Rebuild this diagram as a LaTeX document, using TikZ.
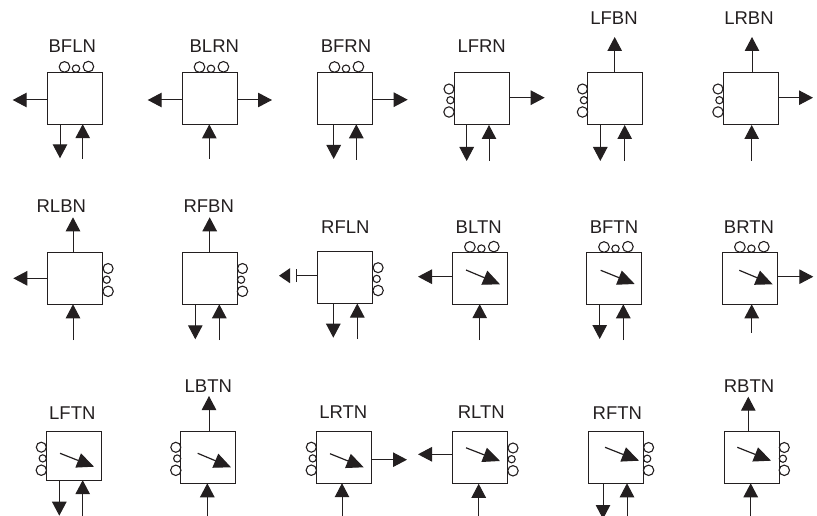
\documentclass[tikz,border=0pt]{standalone}
\usepackage{fontspec}
\setmainfont{Liberation Sans}
\usetikzlibrary{positioning, arrows.meta}
\definecolor{inkdark}{HTML}{231F20}
\tikzset{
    devbox/.style={draw=inkdark,line width=1pt,minimum width=55pt,inner sep=0pt,outer sep=0pt},
    devlabel/.style={text=inkdark,font=\fontsize{18.5}{20}\selectfont,inner sep=0pt},
    flow/.style={draw=inkdark,line width=1pt,-{Triangle[length=14pt,width=14.5pt]}},
    pointer/.style={draw=inkdark,line width=1.2pt,-{Triangle[length=17pt,width=15pt]}},
    roller/.style={draw=inkdark,line width=1.1pt}
}
\begin{document}
\begin{tikzpicture}[x=1pt,y=-1pt]
    \useasboundingbox (0,0) rectangle (817,516);
    % boxes and names: name/centre x/centre y/height/label x/label y
    \foreach \b/\x/\y/\h/\lx/\ly in {
        BFLN/74.8/98.2/52/72.3/45.7, BLRN/209.8/98.4/52/214.3/45.7, BFRN/344.8/98.3/52/346/46,
        LFRN/481.5/99/52/481.7/46, LFBN/615/99/52/614/18.5, LRBN/750.5/99/52/749/18.5,
        RLBN/75.3/278.3/52/61.3/205.7, RFBN/209.7/278.3/52/208.7/205.7, RFLN/345.3/277.5/52/345.3/227.3,
        BLTN/480.2/278.2/52/478.7/227.3, BFTN/614.3/278.3/52/614/227.3, BRTN/750.2/278.3/52/749/227.3,
        LFTN/73.8/455.7/49/72.3/412.7, LBTN/208.3/457.3/52/208.3/385.7, LRTN/343.8/457.2/52/343.3/412.3,
        RLTN/480.2/457.8/52/481.3/412.3, RFTN/615.8/457.3/52/617.3/412.7, RBTN/751.5/457.3/52/749/385.7}{
        \node[devbox,minimum height=\h pt] (\b) at (\x,\y) {};
        \node[devlabel] (\b-name) at (\lx,\ly) {\b};
    }
    % rollers
    \foreach \b in {BFLN,BLRN,BFRN,BLTN,BFTN,BRTN}{
        \draw[roller] ([shift={(-10.3,-5.3)}]\b.north) circle (5.3);
        \draw[roller] ([shift={(1.2,-3.6)}]\b.north) circle (3.7);
        \draw[roller] ([shift={(13.6,-5.6)}]\b.north) circle (5.3);
    }
    \foreach \b in {LFRN,LFBN,LRBN,LFTN,LBTN,LRTN}{
        \draw[roller] ([shift={(-5,16)}]\b.north west) circle (5);
        \draw[roller] ([shift={(-3.6,27.2)}]\b.north west) circle (3.6);
        \draw[roller] ([shift={(-5,39)}]\b.north west) circle (5.2);
    }
    \foreach \b in {RLBN,RFBN,RFLN,RLTN,RFTN,RBTN}{
        \draw[roller] ([shift={(5.3,16.2)}]\b.north east) circle (5);
        \draw[roller] ([shift={(3.9,27.4)}]\b.north east) circle (3.6);
        \draw[roller] ([shift={(5.3,39)}]\b.north east) circle (5.2);
    }
    % tool pointers
    \foreach \b/\ax/\ay/\ex/\ey in {BLTN/-14.2/-8.2/19.8/6.1,BFTN/-13.6/-8/20.4/5.7,BRTN/-10.9/-8/22.5/6,
        LFTN/-13.8/-2.4/20.2/11,LBTN/-10.6/-4/22.7/10,LRTN/-13.8/-3.5/19.9/10.1,
        RLTN/-14.2/-10/19.8/3.2,RFTN/-10.8/-10/23.2/3.4,RBTN/-14.2/-10/19.5/3.4}{
        \coordinate (\b-p0) at ([shift={(\ax,\ay)}]\b.center);
        \coordinate (\b-p1) at ([shift={(\ex,\ey)}]\b.center);
        \draw[pointer] (\b-p0) -- (\b-p1);
    }
    % sideways outputs
    \foreach \b/\x/\y in {BFLN/12.7/100,BLRN/147.7/100,RLBN/13.3/278.3,BLTN/418/276.7,RLTN/418/454.3}{
        \coordinate (\b-l) at (\x,\y);
        \draw[flow] (\b-l -| \b.west) -- (\b-l);
    }
    \foreach \b/\x/\y in {BLRN/272/100,BFRN/407.7/99.7,LFRN/544.7/97.7,LRBN/813/97.7,BRTN/813.3/276.7,LRTN/407/459.7}{
        \coordinate (\b-r) at (\x,\y);
        \draw[flow] (\b-r -| \b.east) -- (\b-r);
    }
    % outputs at the top
    \foreach \b/\x/\y in {LFBN/614.7/37,LRBN/752/37,RLBN/73/217.3,RFBN/209.7/217.3,LBTN/209/396,RBTN/748.3/396.7}{
        \coordinate (\b-t) at (\x,\y);
        \draw[flow] (\b-t |- \b.north) -- (\b-t);
    }
    % outputs at the bottom
    \foreach \b/\x/\y in {BFLN/60/158.3,BFRN/333.7/159,LFRN/466.7/161,LFBN/600.3/161,RFBN/195.3/339.3,
        RFLN/333.3/337.7,BFTN/599.7/339,LFTN/59.3/515.7,RFTN/603/519}{
        \coordinate (\b-d) at (\x,\y);
        \draw[flow] (\b-d |- \b.south) -- (\b-d);
    }
    % inputs at the bottom
    \foreach \b/\x/\y in {BFLN/82.7/159,BLRN/209.3/159,BFRN/356.3/159.7,LFRN/489/161,LFBN/624.7/161,LRBN/751.7/161,
        RLBN/73/340,RFBN/219.3/340,RFLN/357.3/339,BLTN/479.7/340,BFTN/623.3/340,BRTN/751.7/332.7,
        LFTN/82.7/516,LBTN/207.3/516,LRTN/342/516,RLTN/478.7/516,RFTN/627/516,RBTN/750.7/516}{
        \coordinate (\b-i) at (\x,\y);
        \draw[flow] (\b-i) -- (\b-i |- \b.south);
    }
    % blocked output of RFLN
    \coordinate (RFLN-bar) at (296,275.7);
    \coordinate (RFLN-h0) at (290,275.7);
    \coordinate (RFLN-h1) at (279,275.7);
    \draw[draw=inkdark,line width=1pt,-{Bar[width=13pt]}] (RFLN-bar -| RFLN.west) -- (RFLN-bar);
    \fill[inkdark] (RFLN-h1) -- ([yshift=-7.5pt]RFLN-h0) -- ([yshift=7.5pt]RFLN-h0) -- cycle;
\end{tikzpicture}
\end{document}
